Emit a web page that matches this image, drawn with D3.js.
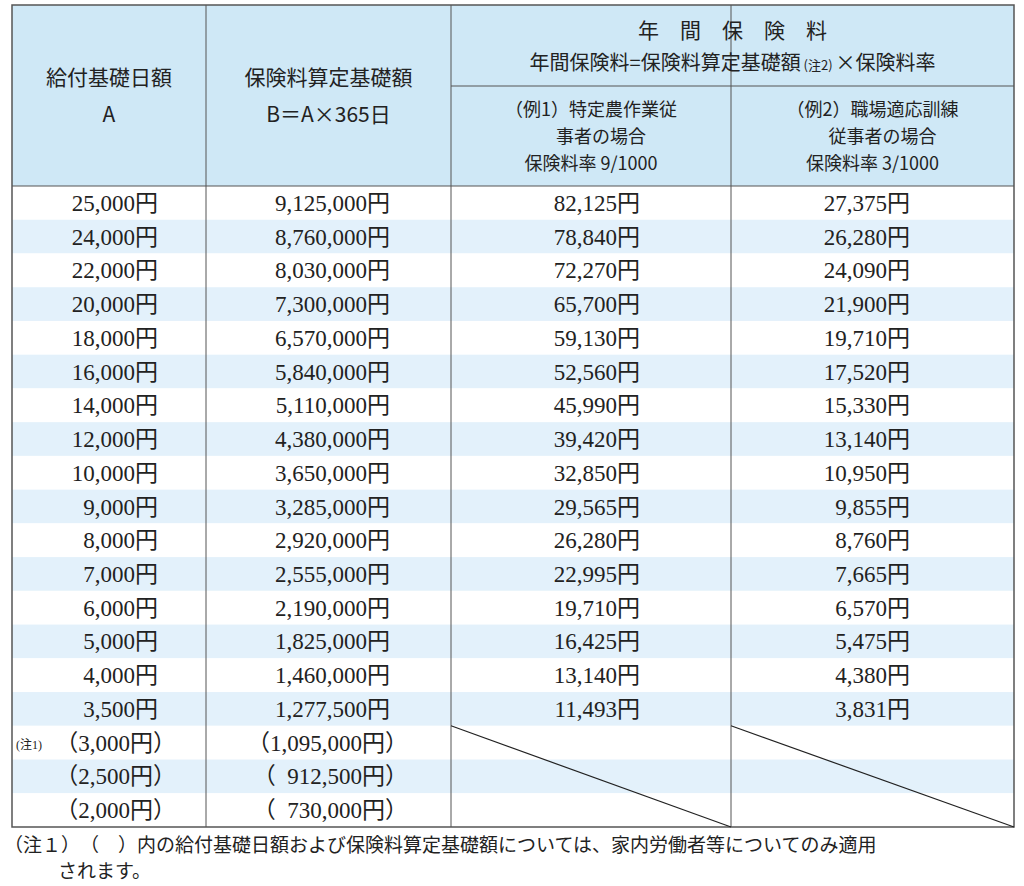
<!DOCTYPE html>
<html><head><meta charset="utf-8">
<script src="https://cdn.jsdelivr.net/npm/d3@7"></script>
<style>body{margin:0;background:#fff}</style>
</head><body><svg id="t"></svg>
<script>
const dailyBase = ["25,000円","24,000円","22,000円","20,000円","18,000円","16,000円","14,000円","12,000円","10,000円","9,000円","8,000円","7,000円","6,000円","5,000円","4,000円","3,500円","(3,000円)","(2,500円)","(2,000円)"];
const annualBase = ["9,125,000円","8,760,000円","8,030,000円","7,300,000円","6,570,000円","5,840,000円","5,110,000円","4,380,000円","3,650,000円","3,285,000円","2,920,000円","2,555,000円","2,190,000円","1,825,000円","1,460,000円","1,277,500円","(1,095,000円)","(\u2002912,500円)","(\u2002730,000円)"];
const premium1 = ["82,125円","78,840円","72,270円","65,700円","59,130円","52,560円","45,990円","39,420円","32,850円","29,565円","26,280円","22,995円","19,710円","16,425円","13,140円","11,493円"];
const premium2 = ["27,375円","26,280円","24,090円","21,900円","19,710円","17,520円","15,330円","13,140円","10,950円","9,855円","8,760円","7,665円","6,570円","5,475円","4,380円","3,831円"];
const colEdges = [12, 206, 451, 731, 1014];

const W = 1024, H = 886, tableTop = 5, headBot = 186, bot = 827;
const svg = d3.select("#t").attr("width", W).attr("height", H);
const sans = "'Noto Sans CJK JP', sans-serif";
const serif = "'Liberation Serif', 'Noto Sans CJK JP', serif";
const y = d3.scaleBand().domain(d3.range(dailyBase.length)).range([headBot, bot]);
const line = "#555";

// backgrounds
svg.append("rect").attr("x", colEdges[0]).attr("y", tableTop).attr("width", colEdges[4] - colEdges[0]).attr("height", headBot - tableTop).attr("fill", "#cfe8f6");
svg.selectAll(".row").data(d3.range(dailyBase.length)).join("rect")
  .attr("x", colEdges[0]).attr("y", d => y(d)).attr("width", colEdges[4] - colEdges[0]).attr("height", y.bandwidth())
  .attr("fill", d => d % 2 ? "#e3f1fb" : "#fff");

// grid lines
colEdges.slice(1, 4).forEach(x => svg.append("line").attr("x1", x).attr("x2", x).attr("y1", tableTop).attr("y2", bot).attr("stroke", line).attr("stroke-width", 1));
svg.append("line").attr("x1", colEdges[2]).attr("x2", colEdges[4]).attr("y1", 86).attr("y2", 86).attr("stroke", line);
svg.append("line").attr("x1", colEdges[0]).attr("x2", colEdges[4]).attr("y1", headBot).attr("y2", headBot).attr("stroke", line);
svg.append("rect").attr("x", colEdges[0]).attr("y", tableTop).attr("width", colEdges[4] - colEdges[0]).attr("height", bot - tableTop).attr("fill", "none").attr("stroke", line).attr("stroke-width", 1.5);

// diagonals in empty cells
const emptyTop = y(premium1.length);
[[2, 3], [3, 4]].forEach(([a, b]) => svg.append("line").attr("x1", colEdges[a]).attr("y1", emptyTop).attr("x2", colEdges[b]).attr("y2", bot).attr("stroke", "#222").attr("stroke-width", 1.2));

// header text
function txt(x, yy, s, size, font, anchor = "middle", extra) {
  const t = svg.append("text").attr("x", x).attr("y", yy).attr("text-anchor", anchor).attr("font-family", font).attr("font-size", size).attr("fill", "#222").text(s);
  if (extra) extra(t);
  return t;
}
const mid = i => (colEdges[i] + colEdges[i + 1]) / 2;
txt(mid(0), 85, "給付基礎日額", 21, sans);
txt(mid(0), 122, "A", 21, sans);
txt(mid(1), 85, "保険料算定基礎額", 21, sans);
txt(mid(1), 122, "B＝A×365日", 21, sans);
txt((colEdges[2] + colEdges[4]) / 2, 38, "年　間　保　険　料", 21, sans);
txt((colEdges[2] + colEdges[4]) / 2, 70, "", 20, sans, "middle", t => {
  t.append("tspan").text("年間保険料=保険料算定基礎額");
  t.append("tspan").attr("font-size", 13).text(" (注2) ");
  t.append("tspan").text("×保険料率");
});
txt(mid(2), 116, "（例1）特定農作業従", 18, sans);
txt(mid(2) + 10, 143, "事者の場合", 18, sans);
txt(mid(2), 170, "保険料率 9/1000", 18, sans);
txt(mid(3), 116, "（例2）職場適応訓練", 18, sans);
txt(mid(3) + 10, 143, "従事者の場合", 18, sans);
txt(mid(3), 170, "保険料率 3/1000", 18, sans);

// body
const cols = [dailyBase, annualBase, premium1, premium2];
const anchorsX = [158, 390, 640, 910];
cols.forEach((arr, c) => {
  svg.append("g").selectAll("text").data(arr).join("text")
    .attr("x", anchorsX[c]).attr("y", (d, i) => y(i) + y.bandwidth() / 2 + 8)
    .attr("text-anchor", "end").attr("font-family", serif).attr("font-size", 23).attr("fill", "#222")
    .text(d => d.startsWith("(") ? d.replace("(", "（").replace(")", "）") : d)
    .attr("dx", d => d.startsWith("(") ? 18 : 0);
});
txt(16, y(16) + y.bandwidth() / 2 + 6, "(注1)", 12, serif, "start");

// footnote
txt(4, 852, "（注１）　（　）内の給付基礎日額および保険料算定基礎額については、家内労働者等についてのみ適用", 19, serif, "start");
txt(58, 878, "されます。", 19, serif, "start");
</script></body></html>
